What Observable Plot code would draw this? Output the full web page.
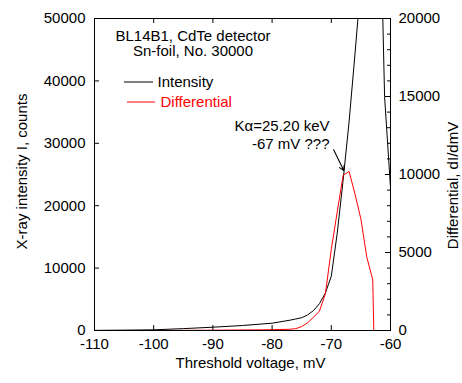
<!DOCTYPE html>
<html><head><meta charset="utf-8">
<script src="https://cdn.jsdelivr.net/npm/d3@7"></script>
<script src="https://cdn.jsdelivr.net/npm/@observablehq/plot@0.6"></script>
<style>body{margin:0;background:#fff} #chart{width:462px;height:383px}</style>
</head><body><div id="chart"></div>
<script>
// ---- data ----
const voltage   = [-110,-105,-100,-95,-90,-85,-80,-77,-76,-75,-74,-73,-72,-71,-70,-69,-68,-67,-66,-65,-64,-63,-62,-61,-60];
const intensity = [20,60,110,300,530,800,1170,1650,1850,2050,2500,3200,4300,6000,8700,15600,24100,33400,44300,55700,66000,75000,79000,37500,22900];
const diffVoltage  = [-110,-100,-90,-80,-77,-76,-75,-74,-73,-72,-71,-70,-69,-68,-67,-66,-65,-64,-63,-62];
const differential = [0,0,20,50,80,120,250,500,850,1250,2350,5200,7600,9950,10200,8750,7150,4700,3250,-15000];

const xTicks  = [-110,-100,-90,-80,-70,-60];
const yTicks  = [0,10000,20000,30000,40000,50000];
const y2Ticks = [0,5000,10000,15000,20000];
const y2Minor = [1000,2000,3000,4000,6000,7000,8000,9000,11000,12000,13000,14000,16000,17000,18000,19000];

const titleLines = ["BL14B1, CdTe detector", "Sn-foil, No. 30000"];
const seriesNames = ["Intensity", "Differential"];
const annotation = ["K\u03B1=25.20 keV", "-67 mV ???"];
const xLabel = "Threshold voltage, mV";
const yLabel = "X-ray intensity I, counts";
const y2Label = "Differential, dI/dmV";

// ---- layout ----
const W = 462, H = 383, mL = 94, mR = 72, mT = 18, mB = 53;
const k = 50000 / 20000; // right axis -> left axis factor
const font = "'Liberation Sans', Arial, Helvetica, sans-serif";

const intensityData = voltage.map((v, i) => ({v, I: intensity[i]}));
const diffData = diffVoltage.map((v, i) => ({v, D: differential[i]}));
const fmt = d => String(d);

const chart = Plot.plot({
  width: W, height: H,
  marginLeft: mL, marginRight: mR, marginTop: mT, marginBottom: mB,
  style: {fontFamily: font, fontSize: "15px", background: "white", color: "black"},
  x: {domain: [-110, -60]},
  y: {domain: [0, 50000]},
  marks: [
    Plot.line(intensityData, {x: "v", y: "I", stroke: "black", strokeWidth: 1, clip: true}),
    Plot.line(diffData, {x: "v", y: d => d.D * k, stroke: "#ff0000", strokeWidth: 1, clip: true}),
    Plot.frame({stroke: "black", strokeWidth: 1}),
    // inward ticks
    Plot.ruleX(xTicks.slice(1, -1), {y1: 0, y2: 800, stroke: "black"}),
    Plot.ruleX(xTicks.slice(1, -1), {y1: 49200, y2: 50000, stroke: "black"}),
    Plot.ruleY(yTicks.slice(1, -1), {x1: -110, x2: -109.15, stroke: "black"}),
    Plot.ruleY(y2Ticks.slice(1, -1).map(v => v * k), {x1: -60.85, x2: -60, stroke: "black"}),
    Plot.ruleY(y2Minor.map(v => v * k), {x1: -60.5, x2: -60, stroke: "black"}),
    // axes labels
    Plot.axisX(xTicks, {tickSize: 0, tickPadding: 8, label: null, tickFormat: fmt}),
    Plot.axisY(yTicks, {anchor: "left", tickSize: 0, tickPadding: 9, label: null, tickFormat: fmt}),
    Plot.axisY(y2Ticks.map(v => v * k), {anchor: "right", tickSize: 0, tickPadding: 8, label: null, tickFormat: d => String(d / k)}),
    Plot.text([xLabel], {frameAnchor: "bottom", dx: 8, dy: 33, textAnchor: "middle", lineAnchor: "middle", fill: "black"}),
    Plot.text([yLabel], {frameAnchor: "left", rotate: -90, dx: -72, dy: -3, textAnchor: "middle", lineAnchor: "middle", fill: "black"}),
    Plot.text([y2Label], {frameAnchor: "right", rotate: -90, dx: 63, dy: 11, textAnchor: "middle", lineAnchor: "middle", fill: "black"}),
    // title inside frame
    Plot.text([titleLines.join("\n")], {frameAnchor: "top-left", dx: 98.5, dy: 25, textAnchor: "middle", lineAnchor: "middle", lineHeight: 1.02, fill: "black"}),
    // legend labels
    Plot.text([seriesNames[0]], {frameAnchor: "top-left", dx: 63, dy: 64, textAnchor: "start", lineAnchor: "middle", fill: "black"}),
    Plot.text([seriesNames[1]], {frameAnchor: "top-left", dx: 66, dy: 84, textAnchor: "start", lineAnchor: "middle", fill: "#ff0000"}),
    // annotation
    Plot.text([annotation.join("\n")], {x: -70.3, y: 31400, textAnchor: "end", lineAnchor: "middle", lineHeight: 1.2, fill: "black"}),
    Plot.arrow([{x1: -69.6, y1: 28960, x2: -67.9, y2: 25640}], {x1: "x1", y1: "y1", x2: "x2", y2: "y2", stroke: "black", strokeWidth: 1.1, headLength: 7, bend: false})
  ]
});

// legend swatches (layout only)
const svg = d3.select(chart);
const g = svg.append("g");
g.append("line").attr("x1", mL + 30).attr("x2", mL + 59).attr("y1", mT + 64).attr("y2", mT + 64).attr("stroke", "black");
g.append("line").attr("x1", mL + 33).attr("x2", mL + 61).attr("y1", mT + 84).attr("y2", mT + 84).attr("stroke", "#ff0000");

document.getElementById("chart").appendChild(chart);
</script>
</body></html>
